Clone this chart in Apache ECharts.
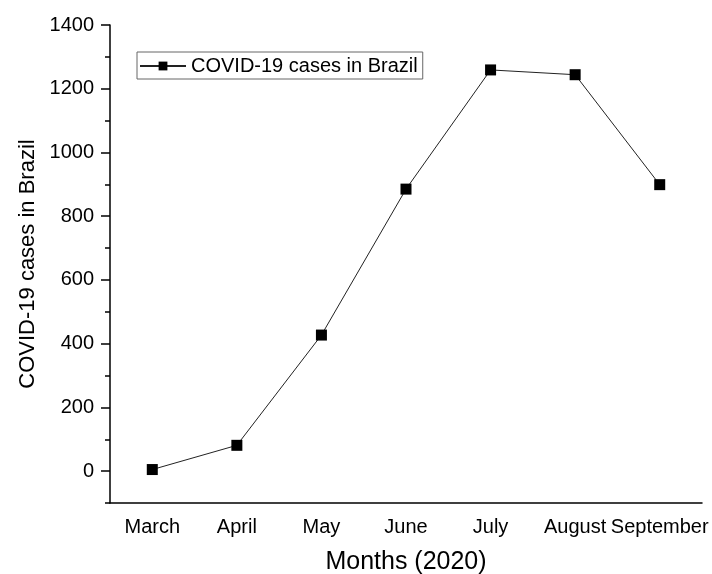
<!DOCTYPE html>
<html>
<head>
<meta charset="utf-8">
<script src="https://cdn.jsdelivr.net/npm/echarts@6/dist/echarts.min.js"></script>
<style>html,body{margin:0;padding:0;background:#fff}#c{width:712px;height:574px}</style>
</head>
<body>
<div id="c"></div>
<script>
var months = ['March', 'April', 'May', 'June', 'July', 'August', 'September'];
var cases = [5, 81, 427, 885, 1259, 1244, 899];
var yMajorTicks = [0, 200, 400, 600, 800, 1000, 1200, 1400];
var yMinorTicks = [-100, 100, 300, 500, 700, 900, 1100, 1300];
var seriesName = 'COVID-19 cases in Brazil';

var FONT = 'Liberation Sans, Arial, sans-serif';
var chart = echarts.init(document.getElementById('c'), null, {renderer: 'canvas'});
chart.setOption({
  animation: false,
  backgroundColor: '#fff',
  textStyle: {fontFamily: FONT},
  grid: {left: 110, right: 10, top: 25, bottom: 71, containLabel: false, outerBoundsMode: 'none'},
  legend: {
    left: 137, top: 52,
    padding: [4, 5, 3, 2],
    borderColor: '#666', borderWidth: 1,
    itemWidth: 46, itemHeight: 11,
    textStyle: {fontSize: 20, color: '#000', fontFamily: FONT},
    data: [seriesName]
  },
  xAxis: [{
    type: 'category', data: months, position: 'bottom', boundaryGap: true,
    name: 'Months (2020)', nameLocation: 'middle', nameGap: 47,
    nameTextStyle: {fontSize: 25, color: '#000', fontFamily: FONT},
    axisLine: {onZero: false, lineStyle: {color: '#000', width: 1.5}},
    axisTick: {alignWithLabel: true, length: 9, lineStyle: {color: '#000', width: 1.5}},
    axisLabel: {fontSize: 20, color: '#000', margin: 14, fontFamily: FONT, interval: 0},
    splitLine: {show: false}
  }, {
    type: 'category', data: months, position: 'bottom', boundaryGap: true,
    axisLine: {show: false, onZero: false},
    axisTick: {alignWithLabel: false, length: 4, lineStyle: {color: '#000', width: 1.5}},
    axisLabel: {show: false},
    splitLine: {show: false}
  }],
  yAxis: [{
    type: 'value', min: -100, max: 1400, position: 'left',
    name: 'COVID-19 cases in Brazil', nameLocation: 'middle', nameGap: 63,
    nameTextStyle: {fontSize: 22, color: '#000', fontFamily: FONT},
    axisLine: {show: true, onZero: false, lineStyle: {color: '#000', width: 1.5}},
    axisTick: {show: true, length: 9, customValues: yMajorTicks, lineStyle: {color: '#000', width: 1.5}},
    axisLabel: {fontSize: 20, color: '#000', margin: 16, customValues: yMajorTicks, fontFamily: FONT,
      formatter: function (v) { return String(v); }},
    splitLine: {show: false}
  }, {
    type: 'value', min: -100, max: 1400, position: 'left', offset: 0,
    axisLine: {show: false, onZero: false},
    axisTick: {show: true, length: 5, customValues: yMinorTicks, lineStyle: {color: '#000', width: 1.5}},
    axisLabel: {show: false},
    splitLine: {show: false}
  }],
  series: [{
    name: seriesName, type: 'line', data: cases,
    xAxisIndex: 0, yAxisIndex: 0,
    symbol: 'rect', symbolSize: 11,
    itemStyle: {color: '#000'},
    lineStyle: {color: '#222', width: 1}
  }]
});
</script>
</body>
</html>
